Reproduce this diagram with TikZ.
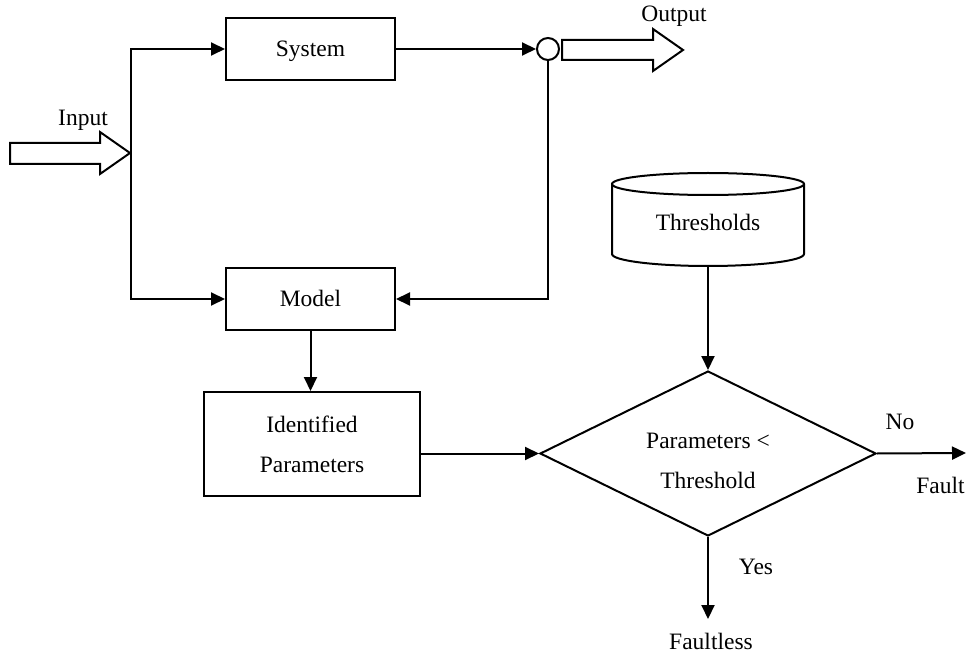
\documentclass[tikz,border=0pt]{standalone}
\usepackage{fontspec}
\setmainfont{Liberation Serif}
\usetikzlibrary{arrows.meta,shapes.geometric}

\begin{document}
\begin{tikzpicture}[x=1pt,y=1pt,
  line width=2pt,
  font=\fontsize{23.5}{40}\selectfont,
  arr/.style={-{Triangle[length=14pt,width=13pt]}},
  box/.style={draw, rectangle, inner sep=0pt, text height=15.5pt, text depth=0pt},
  block/.style={draw, line join=miter},
  lbl/.style={anchor=base, inner sep=0pt},
]
\useasboundingbox (0,0) rectangle (966,657);

% hollow input arrow
\draw[block] (10,514) -- (100,514) -- (100,525) -- (130,504) -- (100,483)
  -- (100,493) -- (10,493) -- cycle;
\coordinate (split) at (131,504);

% process boxes
\node[box, minimum width=169pt, minimum height=62pt] (sys) at (310.5,608) {System};
\node[box, minimum width=169pt, minimum height=62pt] (model) at (310.5,358) {Model};
\node[draw, inner sep=0pt, minimum width=216pt, minimum height=104pt, align=center]
  (ip) at (312,213) {Identified\\Parameters};

% summing point and hollow output arrow
\node[draw, circle, minimum size=22pt, inner sep=0pt] (sum) at (548,608) {};
\draw[block] (562,617) -- (653,617) -- (653,628) -- (683,607) -- (653,586)
  -- (653,597) -- (562,597) -- cycle;

% thresholds store (cylinder)
\draw (612,473) -- (612,403) arc[start angle=180, end angle=360, x radius=96pt, y radius=12pt]
  -- (804,473);
\draw (708,473) ellipse [x radius=96pt, y radius=11pt];
\node[box, draw=none, minimum width=192pt, minimum height=87.2pt] (thr) at (708,434.6) {Thresholds};

% decision
\node[draw, diamond, minimum width=336pt, minimum height=165pt, inner sep=0pt] (dec) at (708,203.5) {};
\node[lbl] (decA) at (708,209) {Parameters <};
\node[lbl] (decB) at (708,169) {Threshold};

% connectors
\draw[arr] (split) |- (sys.west);
\draw[arr] (split) |- (model.west);
\draw[arr] (sys.east) -- (sum.west);
\draw[arr] (sum.south) |- (model.east);
\draw[arr] (model.south) -- (model.south |- ip.north);
\draw[arr] (ip.east |- dec.west) -- (dec.west);
\draw[arr] (thr.south) -- (dec.north);
\coordinate (noend) at (966,204);
\draw[arr] (dec.east) -- (noend);
\coordinate (yesend) at (708,38);
\draw[arr] (dec.south) -- (yesend);

% labels
\node[lbl] (inlbl) at (83,531) {Input};
\node[lbl] (outlbl) at (674,635) {Output};
\node[lbl] (nolbl) at (900,228) {No};
\node[lbl] (faultlbl) at (940.5,164) {Fault};
\node[lbl] (yeslbl) at (756,83) {Yes};
\node[lbl] (faultlesslbl) at (711,8) {Faultless};
\end{tikzpicture}
\end{document}
